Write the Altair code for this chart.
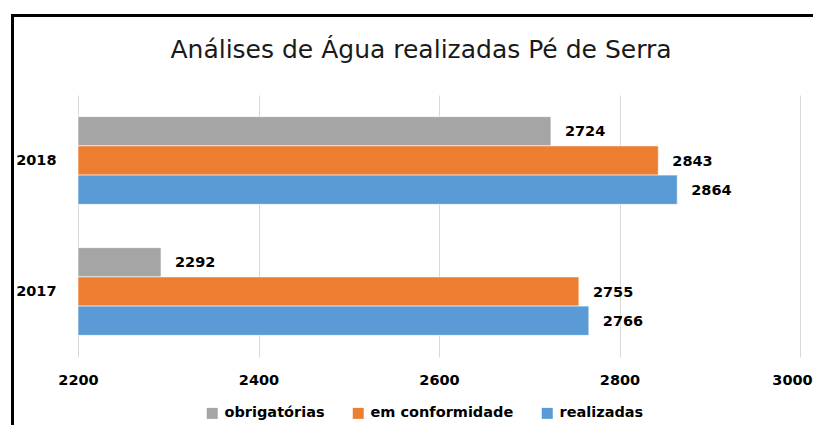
import altair as alt
import pandas as pd

years = ["2018", "2017"]
series = ["obrigatórias", "em conformidade", "realizadas"]
obrigatorias = [2724, 2292]
conformidade = [2843, 2755]
realizadas = [2864, 2766]
x_ticks = [2200, 2400, 2600, 2800, 3000]
colors = ["#a5a5a5", "#ed7d31", "#5b9bd5"]

rows = []
for i, y in enumerate(years):
    for s, vals in zip(series, [obrigatorias, conformidade, realizadas]):
        rows.append({"ano": y, "serie": s, "valor": vals[i]})
df = pd.DataFrame(rows)

FONT = "DejaVu Sans"

y_enc = alt.Y("ano:N", sort=years, scale=alt.Scale(paddingInner=0, paddingOuter=0),
              axis=alt.Axis(title=None, domain=False, ticks=False, grid=False, labelFont=FONT,
                            labelFontWeight="bold", labelFontSize=14.5, labelColor="#000000",
                            labelPadding=22))
yoff = alt.YOffset("serie:N", sort=series,
                   scale=alt.Scale(paddingInner=0, paddingOuter=0.74))
x_enc = alt.X("valor:Q", scale=alt.Scale(domain=[2200, 3000], zero=False, nice=False),
              axis=alt.Axis(title=None, values=x_ticks, domain=False, ticks=False,
                            grid=True, gridColor="#d9d9d9", gridWidth=1, labelFlush=False,
                            labelOffset={"condition": {"test": "datum.value == 3000", "value": -8},
                                         "value": 0},
                            labelFont=FONT, labelFontWeight="bold", labelFontSize=14.5,
                            labelColor="#000000", labelPadding=16, format="d"))

bars = alt.Chart(df).mark_bar(stroke="#ffffff", strokeWidth=0.6).encode(
    x=x_enc,
    x2=alt.datum(2200),
    y=y_enc,
    yOffset=yoff,
    color=alt.Color("serie:N", sort=series,
                    scale=alt.Scale(domain=series, range=colors),
                    legend=alt.Legend(title=None, orient="none", legendX=127, legendY=311,
                                      direction="horizontal", symbolType="square",
                                      symbolSize=121, symbolStrokeWidth=0,
                                      labelFont=FONT, labelFontWeight="bold",
                                      labelFontSize=14.5, labelColor="#000000",
                                      labelOffset=5, columnPadding=26, padding=0,
                                      labelLimit=400)),
)

labels = alt.Chart(df).mark_text(align="left", baseline="middle", dx=14, dy=1,
                                 font=FONT, fontWeight="bold", fontSize=14.5,
                                 color="#000000").encode(
    x="valor:Q",
    y=alt.Y("ano:N", sort=years),
    yOffset=alt.YOffset("serie:N", sort=series),
    text=alt.Text("valor:Q", format="d"),
)

frame_left = alt.Chart(df).mark_rule(color="#000000", strokeWidth=3).encode(
    x=alt.value(-65.5), y=alt.value(-79.5), y2=alt.value(360))
frame_top = alt.Chart(df).mark_rule(color="#000000", strokeWidth=3).encode(
    x=alt.value(-67), x2=alt.value(735), y=alt.value(-79.5))

chart = alt.layer(bars, labels, frame_left, frame_top).properties(
    width=722, height=262,
    autosize=alt.AutoSizeParams(type="none"),
    padding={"left": 70, "top": 87, "right": 13, "bottom": 68},
    title=alt.TitleParams("Análises de Água realizadas Pé de Serra", font=FONT,
                          fontSize=25, fontWeight="normal", color="#1a1a1a",
                          anchor="middle", frame="group", dx=-18, offset=-69,
                          baseline="alphabetic"),
).configure(background="#ffffff", view=alt.ViewConfig(stroke="transparent", strokeWidth=0))

chart.save("out.html", embed_options={"renderer": "svg", "actions": False})
